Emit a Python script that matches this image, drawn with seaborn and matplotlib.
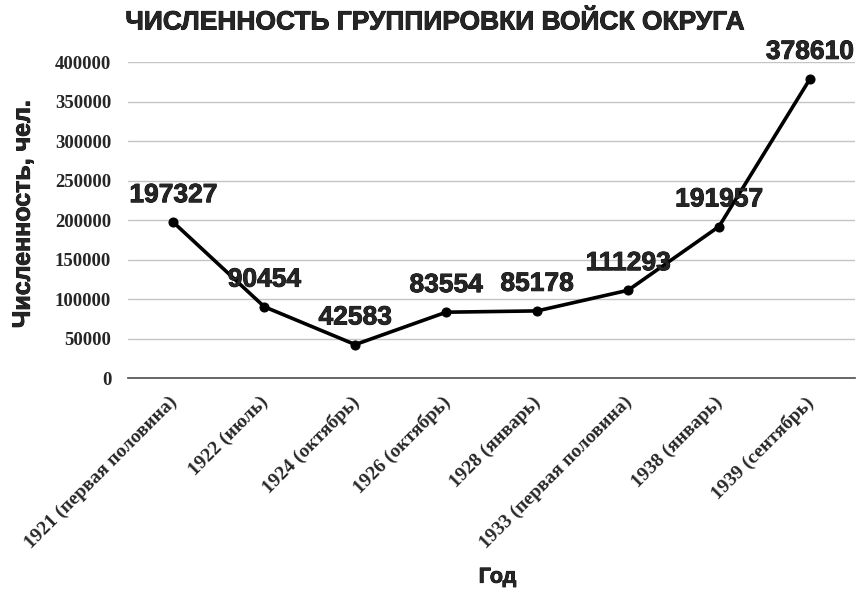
import matplotlib
matplotlib.use("Agg")
import matplotlib.pyplot as plt
import matplotlib.patheffects as pe
import matplotlib.transforms as mtransforms
import seaborn as sns
import pandas as pd

periods = ["1921 (первая половина)", "1922 (июль)", "1924 (октябрь)", "1926 (октябрь)",
           "1928 (январь)", "1933 (первая половина)", "1938 (январь)", "1939 (сентябрь)"]
troops = [197327, 90454, 42583, 83554, 85178, 111293, 191957, 378610]
y_ticks = [0, 50000, 100000, 150000, 200000, 250000, 300000, 350000, 400000]

df = pd.DataFrame({"period": periods, "troops": troops})
df["pos"] = range(len(df))

sns.set_theme(style="white")
plt.rcParams["font.family"] = ["Liberation Sans", "DejaVu Sans"]

heavy = [pe.withStroke(linewidth=0.6, foreground="black")]
sans = ["Liberation Sans", "DejaVu Sans"]
serif = ["Liberation Serif", "DejaVu Serif"]

fig = plt.figure(figsize=(8.58, 5.91), dpi=100)
ax = fig.add_axes([0.149, 0.360, 0.848, 0.535])

sns.lineplot(data=df, x="pos", y="troops", color="black", linewidth=2.6,
             marker="o", markersize=6.5, markeredgecolor="black", ax=ax)

# data labels above the points
for x, y in zip(df["pos"], df["troops"]):
    ax.annotate(f"{y}", (x, y), xytext=(0, 19.5), textcoords="offset points",
                ha="center", va="center", fontsize=19, fontweight="bold",
                family=sans, path_effects=heavy)

ax.set_xlim(-0.5, len(df) - 0.5)
ax.set_ylim(0, 400000)
ax.set_yticks(y_ticks)
ax.set_yticklabels([str(v) for v in y_ticks], family=serif, fontweight="bold", fontsize=13.5)
ax.set_xticks(df["pos"])
ax.set_xticklabels(df["period"], rotation=45, ha="right", rotation_mode="anchor",
                   family=serif, fontweight="bold", fontsize=14)
ax.tick_params(axis="x", length=0, pad=8)
ax.tick_params(axis="y", length=0, pad=12)
shift = mtransforms.ScaledTranslation(-5 / 100, -4 / 100, fig.dpi_scale_trans)
for lab in ax.get_xticklabels():
    lab.set_transform(lab.get_transform() + shift)
ax.set_xticks([p + 0.5 for p in range(-1, len(df))], minor=True)
ax.tick_params(axis="x", which="minor", length=4, color="#777777", direction="out")

ax.yaxis.grid(True, color="#c4c4c4", linewidth=1)
for side in ["top", "right", "left"]:
    ax.spines[side].set_visible(False)
ax.spines["bottom"].set_color("#555555")

ax.set_xlabel("Год", fontsize=15.5, fontweight="bold", path_effects=heavy)
ax.set_ylabel("Численность, чел.", fontsize=18, fontweight="bold", path_effects=heavy)
ax.xaxis.set_label_coords(0.508, -0.596)
ax.yaxis.set_label_coords(-0.128, 0.52)
fig.text(0.507, 0.962, "ЧИСЛЕННОСТЬ ГРУППИРОВКИ ВОЙСК ОКРУГА", ha="center", va="center",
         fontsize=19, fontweight="bold", path_effects=heavy)

fig.savefig("out.png", dpi=100, facecolor="white")
